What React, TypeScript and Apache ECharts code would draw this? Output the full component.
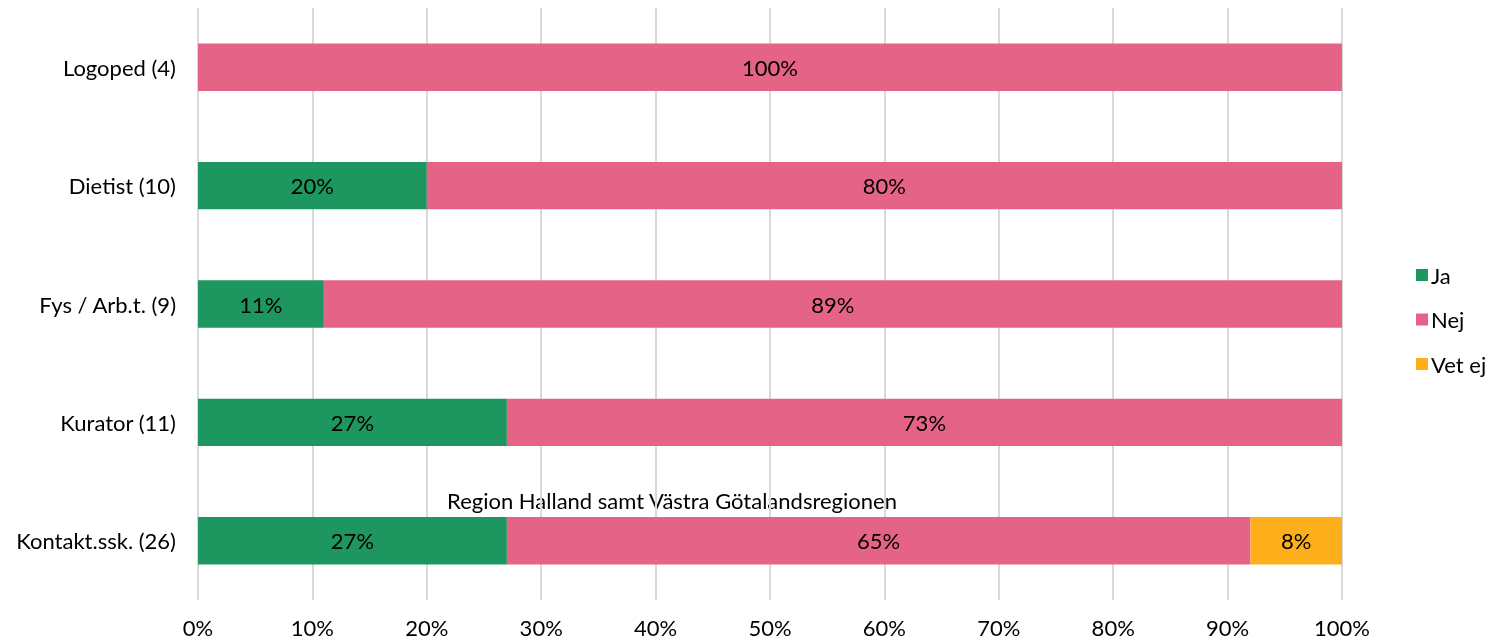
import React, { useEffect, useRef } from "react";
import * as echarts from "echarts";

const categories = ["Kontakt.ssk. (26)", "Kurator (11)", "Fys / Arb.t. (9)", "Dietist (10)", "Logoped (4)"];
const ja = [27, 27, 11, 20, 0];
const nej = [65, 73, 89, 80, 100];
const vetEj = [8, 0, 0, 0, 0];
const xTicks = [0, 10, 20, 30, 40, 50, 60, 70, 80, 90, 100];
const noteText = "Region Halland samt Västra Götalandsregionen";

const FONT = "Lato, 'Open Sans', sans-serif";
const FS = 22;

export default function App() {
  const ref = useRef<HTMLDivElement>(null);
  useEffect(() => {
    if (!ref.current) return;
    const chart = echarts.init(ref.current, undefined, { renderer: "svg" });
    const label = {
      show: true,
      position: "inside",
      color: "#000",
      fontSize: FS,
      fontFamily: FONT,
      formatter: (p: any) => (p.value > 0 ? p.value + "%" : ""),
    };
    const mk = (name: string, data: number[], color: string) => ({
      name,
      type: "bar",
      stack: "total",
      data,
      barWidth: "40%",
      itemStyle: { color },
      label,
    });
    chart.setOption({
      animation: false,
      textStyle: { fontFamily: FONT },
      grid: { left: 198, right: 155, top: 8, bottom: 43, containLabel: false },
      legend: {
        orient: "vertical",
        left: 1411,
        top: 259,
        itemWidth: 12,
        itemHeight: 12,
        itemGap: 22.5,
        icon: "rect",
        textStyle: { fontSize: FS, color: "#000", fontFamily: FONT, padding: [0, 0, 0, -2] },
        data: ["Ja", "Nej", "Vet ej"],
      },
      xAxis: {
        type: "value",
        min: xTicks[0],
        max: xTicks[xTicks.length - 1],
        interval: 10,
        axisLine: { show: false },
        axisTick: { show: false },
        splitLine: { show: true, lineStyle: { color: "#d9d9d9", width: 2 } },
        axisLabel: { formatter: "{value}%", fontSize: FS, color: "#000", margin: 16, fontFamily: FONT },
      },
      yAxis: {
        type: "category",
        data: categories,
        axisLine: { show: false },
        axisTick: { show: false },
        axisLabel: { fontSize: FS, color: "#000", margin: 22, fontFamily: FONT },
      },
      graphic: [
        {
          type: "text",
          x: 672,
          y: 500,
          style: { text: noteText, fontSize: FS, fill: "#000", fontFamily: FONT, textAlign: "center", textVerticalAlign: "middle" },
        },
      ],
      series: [mk("Ja", ja, "#1e965f"), mk("Nej", nej, "#e46386"), mk("Vet ej", vetEj, "#fdae1b")],
    });
    return () => chart.dispose();
  }, []);
  return <div ref={ref} style={{ position: "fixed", left: 0, top: 0, width: 1497, height: 643 }} />;
}
